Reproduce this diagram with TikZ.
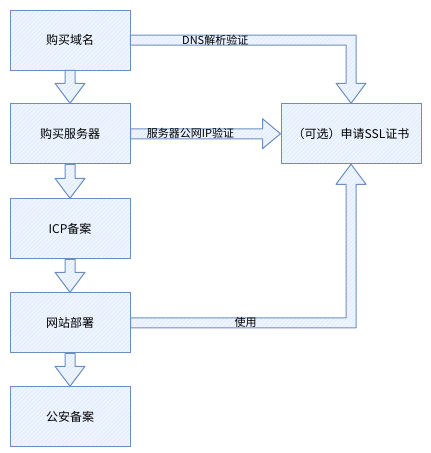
\documentclass[tikz,border=0pt]{standalone}
\usepackage{fontspec}
\setmainfont{Noto Sans CJK SC}
\usepackage{xcolor}
\usetikzlibrary{positioning, calc, patterns.meta}
\definecolor{myfill}{RGB}{218,232,252}
\definecolor{myline}{RGB}{108,142,191}

\tikzset{
  stepbox/.style={draw=myline, line width=1pt, preaction={fill=myfill!45},
    pattern={Lines[angle=45,distance=3pt,line width=0.5pt]}, pattern color=myfill,
    minimum width=120pt, minimum height=60pt, font=\fontsize{12}{14}\selectfont},
  bigarrow/.style={draw=myline, line width=1pt, line join=round, preaction={fill=myfill!45},
    pattern={Lines[angle=45,distance=3pt,line width=0.5pt]}, pattern color=myfill},
  arrowlabel/.style={font=\fontsize{11}{13}\selectfont, inner sep=1pt}
}

\begin{document}
\begin{tikzpicture}[x=1pt, y=-1pt]

\useasboundingbox (0,0) rectangle (431,453);

% left column
\node[stepbox] (buy) at (70,40) {购买域名};
\node[stepbox, below=33pt of buy] (server) {购买服务器};
\node[stepbox, below=34pt of server] (icp) {ICP备案};
\node[stepbox, below=33pt of icp] (deploy) {网站部署};
\node[stepbox, below=33pt of deploy] (police) {公安备案};

% right
\node[stepbox, minimum width=140pt, right=150pt of server] (ssl) {（可选）申请SSL证书};

% block arrows down the column
\foreach \a/\b in {buy/server, server/icp, icp/deploy, deploy/police}{
  \draw[bigarrow] ($(\a.south)+(-5,0)$) -- ($(\b.north)+(-5,-20)$) -- ++(-10,0) -- (\b.north)
    -- ++(15,-20) -- ++(-10,0) -- ($(\a.south)+(5,0)$) -- cycle;
}

% domain -> ssl
\draw[bigarrow] ($(buy.east)+(0,-5)$) -- ($(ssl.north |- buy.east)+(5,-5)$) -- ($(ssl.north)+(5,-20)$)
  -- ++(10,0) -- (ssl.north) -- ++(-15,-20) -- ++(10,0) -- ($(ssl.north |- buy.east)+(-5,5)$)
  -- ($(buy.east)+(0,5)$) -- cycle;
\node[arrowlabel] (dnslabel) at ($(buy.east)+(85,0)$) {DNS解析验证};

% server -> ssl
\draw[bigarrow] ($(server.east)+(0,-5)$) -- ($(ssl.west)+(-18,-5)$) -- ++(0,-10) -- (ssl.west)
  -- ++(-18,15) -- ++(0,-10) -- ($(server.east)+(0,5)$) -- cycle;
\node[arrowlabel] (iplabel) at ($(server.east)+(60,0)$) {服务器公网IP验证};

% deploy -> ssl
\draw[bigarrow] ($(deploy.east)+(0,-5)$) -- ($(ssl.south |- deploy.east)+(-5,-5)$) -- ($(ssl.south)+(-5,20)$)
  -- ++(-10,0) -- (ssl.south) -- ++(15,20) -- ++(-10,0) -- ($(ssl.south |- deploy.east)+(5,5)$)
  -- ($(deploy.east)+(0,5)$) -- cycle;
\node[arrowlabel] (uselabel) at ($(deploy.east)+(115,0)$) {使用};

\end{tikzpicture}
\end{document}
